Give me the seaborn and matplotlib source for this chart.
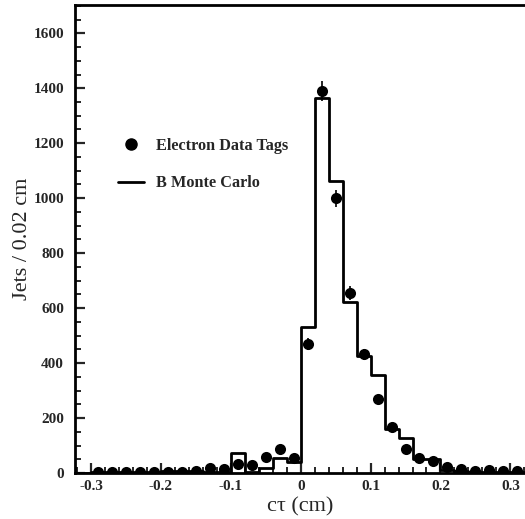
import numpy as np
import pandas as pd
import matplotlib
matplotlib.use("Agg")
import matplotlib.pyplot as plt
import seaborn as sns
from matplotlib.ticker import MultipleLocator, FixedLocator, FixedFormatter
from matplotlib.lines import Line2D

# ---- data ----
mc_edges = [round(-0.32 + 0.02 * i, 2) for i in range(33)]
mc_centers = [round(-0.31 + 0.02 * i, 2) for i in range(32)]
mc_counts = [0, 2, 2, 2, 2, 4, 9, 8, 6, 5, 5, 73, 5, 17, 55, 40,
             530, 1366, 1063, 622, 425, 355, 160, 128, 50, 50, 12, 8, 5, 4, 3, 2]

data_x = [-0.29, -0.27, -0.25, -0.23, -0.21, -0.19, -0.17, -0.15, -0.13, -0.11,
          -0.09, -0.07, -0.05, -0.03, -0.01, 0.01, 0.03, 0.05, 0.07, 0.09,
          0.11, 0.13, 0.15, 0.17, 0.19, 0.21, 0.23, 0.25, 0.27, 0.29, 0.31]
data_y = [4, 4, 4, 4, 4, 5, 5, 9, 19, 15,
          33, 28, 58, 88, 55, 471, 1391, 999, 655, 432,
          268, 169, 86, 55, 45, 21, 15, 7, 12, 7, 9]
data_err = [2, 2, 2, 2, 2, 2, 2, 3, 4, 4,
            6, 5, 8, 9, 7, 22, 37, 32, 26, 21,
            16, 13, 9, 7, 7, 5, 4, 3, 3, 3, 3]

xticks = [-0.3, -0.2, -0.1, 0.0, 0.1, 0.2, 0.3]
xticklabels = ["-0.3", "-0.2", "-0.1", "0", "0.1", "0.2", "0.3"]
yticks = [0, 200, 400, 600, 800, 1000, 1200, 1400, 1600]

sns.set_style("ticks")
plt.rcParams["font.family"] = ["Liberation Serif", "DejaVu Serif"]
plt.rcParams["axes.unicode_minus"] = False

fig = plt.figure(figsize=(5.25, 5.19), dpi=100)
ax = fig.add_axes([75 / 525, 46 / 519, 1 - 75 / 525, (473 - 5) / 519])

mc_df = pd.DataFrame({"ct": mc_centers, "n": mc_counts})
sns.histplot(data=mc_df, x="ct", weights="n", bins=mc_edges, element="step",
             fill=False, color="black", linewidth=2.0, ax=ax)

ax.errorbar(data_x, data_y, yerr=data_err, fmt="none", ecolor="black",
            elinewidth=1.2, capsize=0, zorder=3)
sns.scatterplot(x=data_x, y=data_y, color="black", s=64, edgecolor="black",
                linewidth=0, ax=ax, zorder=4)

ax.set_xlim(-0.323, 0.321)
ax.set_ylim(0, 1703)

ax.xaxis.set_major_locator(FixedLocator(xticks))
ax.xaxis.set_major_formatter(FixedFormatter(xticklabels))
ax.xaxis.set_minor_locator(MultipleLocator(0.02))
ax.yaxis.set_major_locator(FixedLocator(yticks))
ax.yaxis.set_minor_locator(MultipleLocator(50))

ax.tick_params(axis="both", which="major", direction="in", length=7, width=1.6,
               labelsize=11, pad=5)
ax.tick_params(axis="both", which="minor", direction="in", length=4.5, width=1.4)
ax.tick_params(axis="y", pad=8)
for lab in ax.get_xticklabels() + ax.get_yticklabels():
    lab.set_fontweight("bold")

for side in ["left", "bottom", "top"]:
    ax.spines[side].set_linewidth(2.0)
    ax.spines[side].set_color("black")
ax.spines["right"].set_visible(False)

ax.set_xlabel("c\u03c4 (cm)", fontsize=16, labelpad=3)
ax.set_ylabel("Jets / 0.02 cm", fontsize=16, labelpad=1)

handles = [
    Line2D([], [], marker="o", color="black", linestyle="none", markersize=8),
    Line2D([], [], color="black", linewidth=2.0),
]
leg = ax.legend(handles, ["Electron Data Tags", "B Monte Carlo"],
                loc="upper left", bbox_to_anchor=(0.063, 0.748), frameon=False,
                prop={"weight": "bold", "size": 11.7, "family": "Liberation Serif"},
                handlelength=1.6, handletextpad=0.75, labelspacing=1.35)

fig.savefig("out.png", dpi=100)
